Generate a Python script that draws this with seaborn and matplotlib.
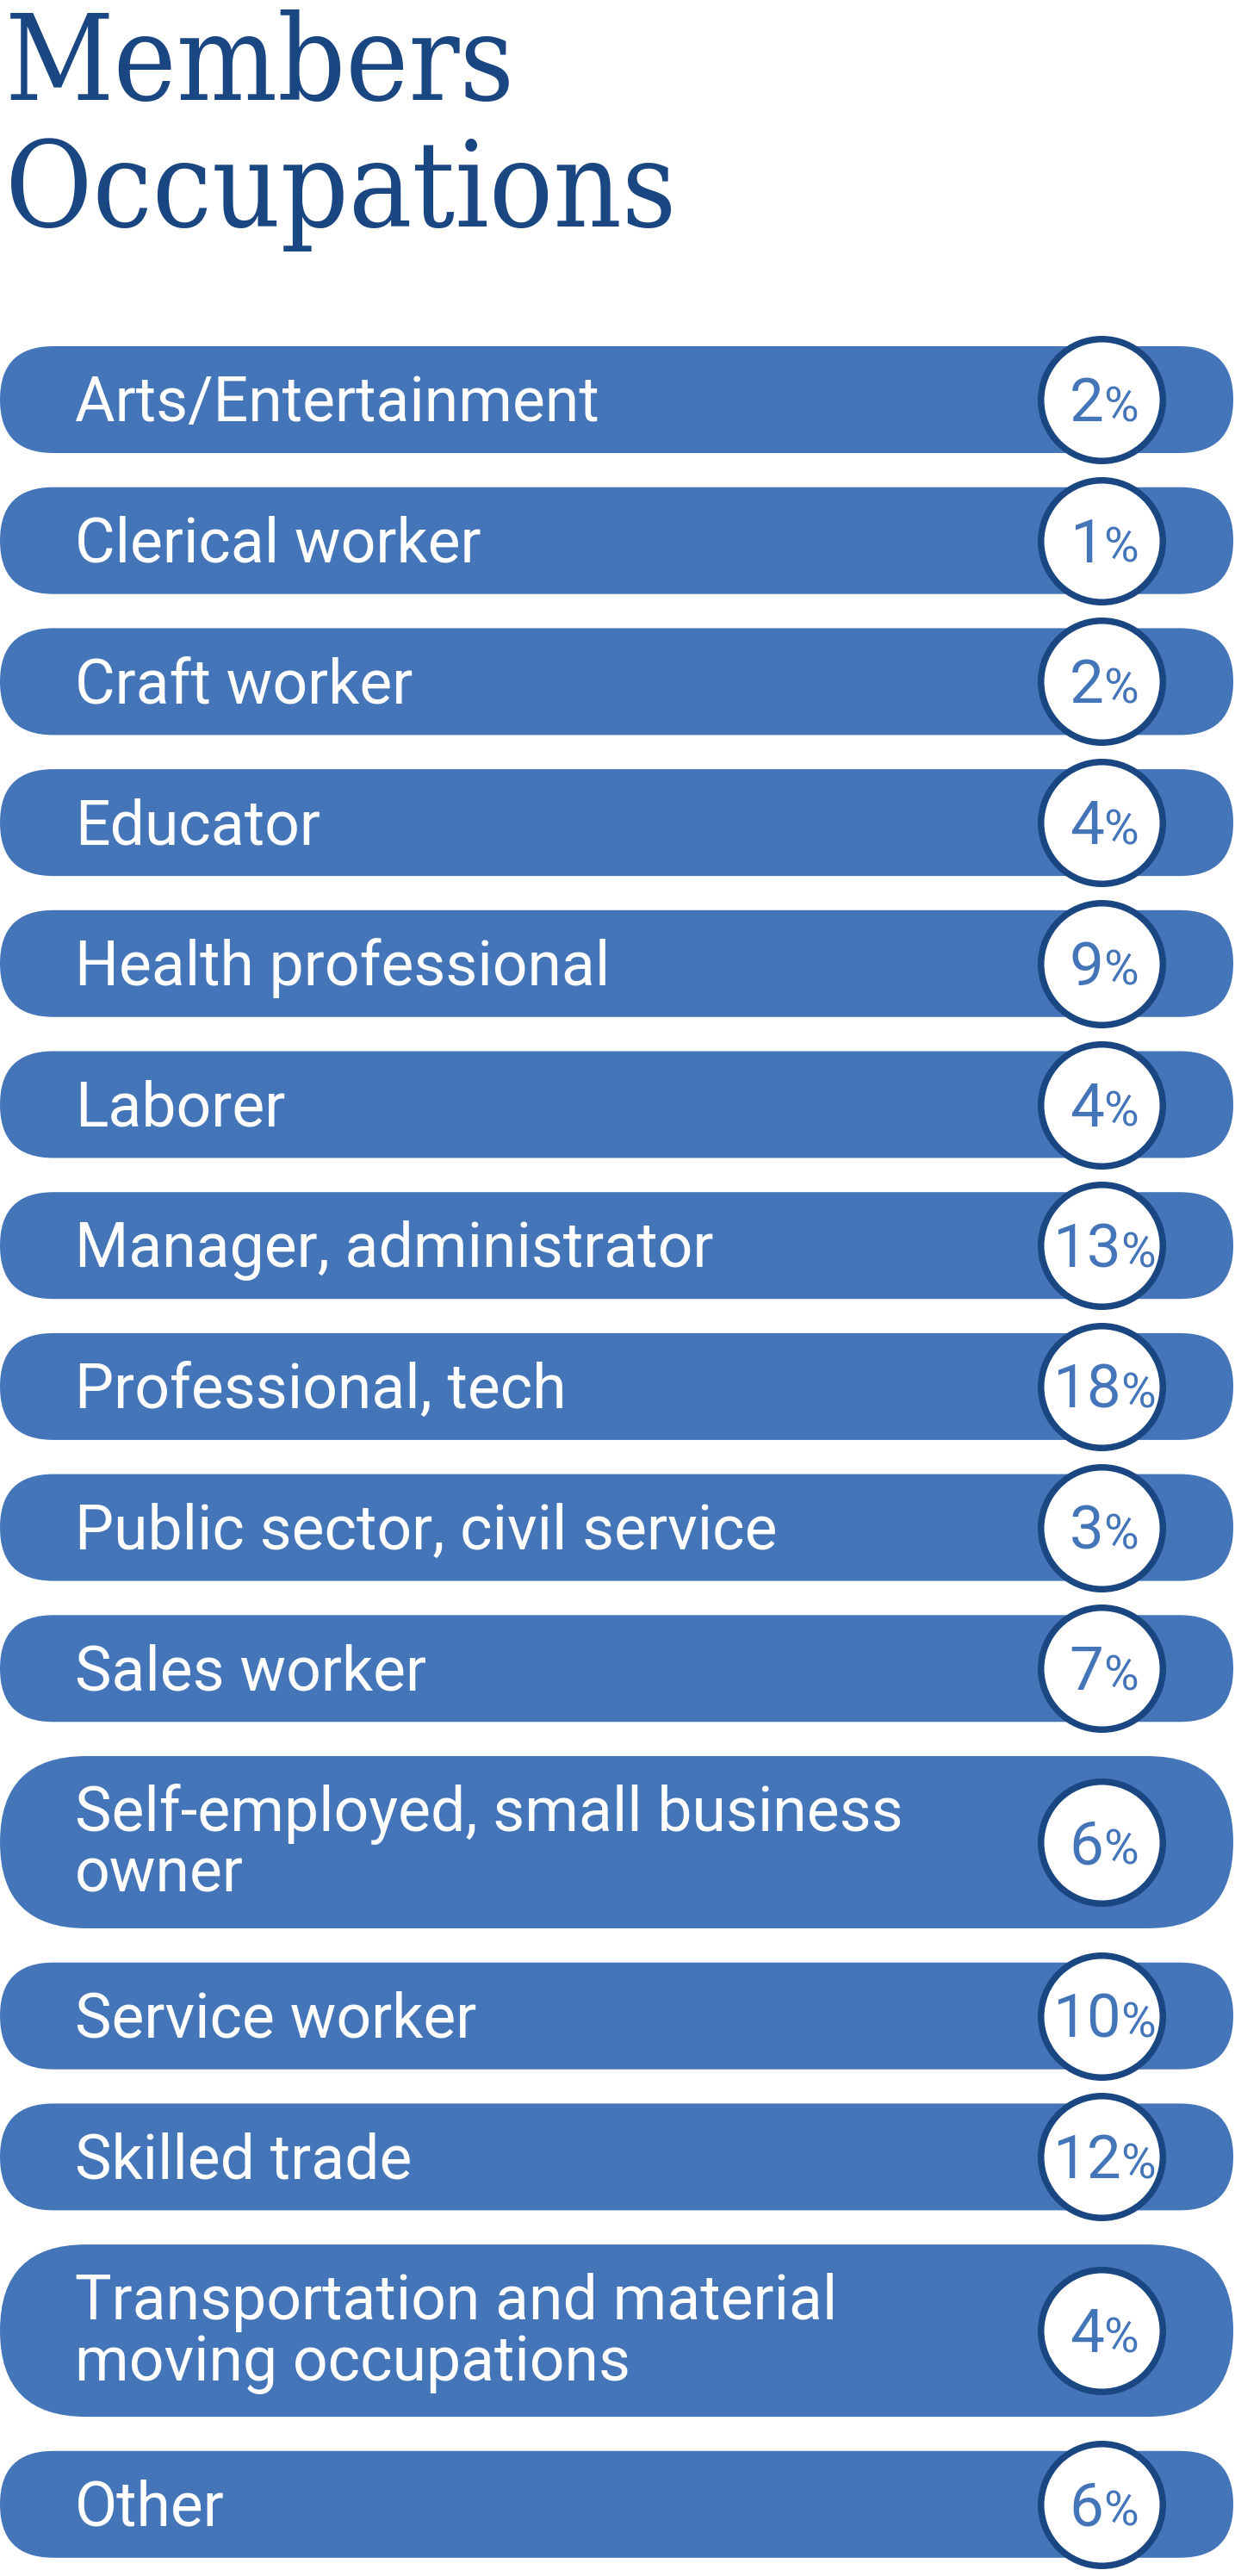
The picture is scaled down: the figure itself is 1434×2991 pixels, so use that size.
import matplotlib
matplotlib.use("Agg")
import matplotlib.pyplot as plt
import seaborn as sns
import pandas as pd
from matplotlib.patches import FancyBboxPatch

# ---------------- data ----------------
title_lines = ["Members", "Occupations"]
categories = [
    "Arts/Entertainment",
    "Clerical worker",
    "Craft worker",
    "Educator",
    "Health professional",
    "Laborer",
    "Manager, administrator",
    "Professional, tech",
    "Public sector, civil service",
    "Sales worker",
    "Self-employed, small business\nowner",
    "Service worker",
    "Skilled trade",
    "Transportation and material\nmoving occupations",
    "Other",
]
values = [2, 1, 2, 4, 9, 4, 13, 18, 3, 7, 6, 10, 12, 4, 6]

# ---------------- style ----------------
BAR = "#4575B9"
NAVY = "#1A4782"

sns.set_theme(style="white")
plt.rcParams['font.family'] = ['Roboto', 'DejaVu Sans']

W, H, DPI = 1434, 2991, 100
fig = plt.figure(figsize=(W / DPI, H / DPI), dpi=DPI, facecolor="white")
ax = fig.add_axes([0, 0, 1, 1])

# ---------------- layout ----------------
first_top = 402
single_h = 124
extra_line = 76
gap = 39.7
tops, heights = [], []
y = first_top
for cat in categories:
    n = cat.count("\n") + 1
    h = single_h + extra_line * (n - 1)
    tops.append(y)
    heights.append(h)
    y += h + gap
centers = [t + h / 2 for t, h in zip(tops, heights)]

bar_left, bar_right = 0, 1432
circle_x = 1279

# pills
for t, h in zip(tops, heights):
    ax.add_patch(FancyBboxPatch((bar_left, t), bar_right - bar_left, h,
                                boxstyle=f"round,pad=0,rounding_size={h / 2}",
                                facecolor=BAR, edgecolor="none", zorder=1))

# labels
label_fs = 51.5
cap = 52
pitch = 71
for cat, c in zip(categories, centers):
    lines = cat.split("\n")
    n = len(lines)
    lift = 4 if n > 1 else 1
    for k, line in enumerate(lines):
        yb = c + cap / 2 - lift + (k - (n - 1) / 2) * pitch
        ax.text(87, yb, line, color="white", fontsize=label_fs,
                ha="left", va="baseline", zorder=2)

# circles via seaborn
df = pd.DataFrame({"x": [circle_x] * len(categories), "y": centers, "v": values})
sns.scatterplot(data=df, x="x", y="y", s=10380, color="white",
                edgecolor=NAVY, linewidth=5.4, ax=ax, legend=False, zorder=3)

# percentages
ren = fig.canvas.get_renderer()
for v, c in zip(df["v"], df["y"]):
    yb = c + 25
    t1 = ax.text(0, yb, f"{v}", color=BAR, fontsize=51, ha="left",
                 va="baseline", zorder=4)
    t2 = ax.text(0, yb, "%", color=BAR, fontsize=40, ha="left",
                 va="baseline", zorder=4)
    wd = t1.get_window_extent(renderer=ren).width
    wp = t2.get_window_extent(renderer=ren).width
    sep = 0
    left = circle_x + 3 - (wd + sep + wp) / 2
    t1.set_x(left)
    t2.set_x(left + wd + sep)

# title
for line, yb in zip(title_lines, [116, 263]):
    ax.text(6, yb, line, color=NAVY, fontsize=99, family="DejaVu Serif",
            fontstretch="condensed", ha="left", va="baseline")

ax.set_xlim(0, W)
ax.set_ylim(H, 0)
ax.axis("off")

fig.savefig("out.png", dpi=DPI, facecolor="white")
